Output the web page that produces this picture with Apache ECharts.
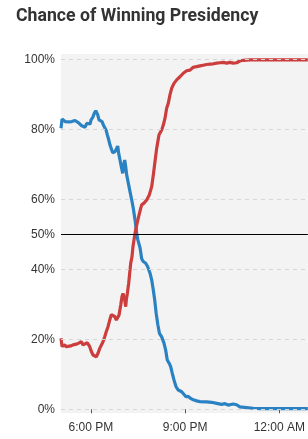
<!DOCTYPE html>
<html>
<head>
<meta charset="utf-8">
<script src="https://cdn.jsdelivr.net/npm/echarts@6/dist/echarts.min.js"></script>
<style>
html,body{margin:0;padding:0;background:#fff;}
#c{width:308px;height:439px;}
</style>
</head>
<body>
<div id="c"></div>
<script>
// minutes relative to 6:00 PM
const blueTimes = [-57,-55,-52.5,-49.2,-46,-42.9,-39.7,-36.5,-33.4,-30.2,-26.9,-23.9,-20.6,-17.4,-14.3,-11.1,-7.8,-4.8,-1.5,0.4,3.6,6.7,9.4,11.3,13.2,15.6,18.9,21.4,23.9,27.1,29,31.5,34.2,36.6,39.9,41.8,44.3,46.2,49.4,51.3,53.2,55.7,58.2,60.9,63.4,64.7,66.6,68.5,71.6,74.8,78.1,81.1,84.4,87.6,89.8,93.9,97.1,100.2,104.8,108.6,113,116.2,119.3,122,124.8,127.9,131,135.3,139.7,142.9,146,149.8,152.5,155.5,158.8,162.6,167,173.5,176.5,181.7,186,190.6,195.6,202.1,208.4,221.2,230.7,240.3,249.8,256.1,262.4,272,278.4,284.7,297.5,310.1,323,348.3,414.5];
const blueValues = [80.3,82.9,82.7,82.2,82.4,82.1,82.6,82.2,82.3,82.5,82.2,81.9,81.7,81.0,80.7,80.6,81.7,82.2,81.5,82.7,83.4,84.6,85.3,85.5,84.1,82.7,82.5,82.2,81.2,80.7,79.8,78.4,77.0,75.5,74.1,73.3,72.9,73.6,74.6,75.2,73.1,71.2,69.3,67.4,70.3,71.2,69.3,66.9,64.6,62.2,59.8,57.4,54.1,50.3,48.4,46.2,43.0,42.2,41.7,40.7,38.9,37.0,34.1,31.2,27.4,24.2,21.7,20.7,18.9,16.9,14.1,13.1,12.2,10.3,8.4,6.5,5.5,5.0,4.6,3.6,3.7,3.1,2.7,2.4,2.2,2.1,2.0,1.7,1.4,1.6,1.2,1.5,1.3,0.7,0.5,0.3,0.2,0.2,0.2];

const redTimes = [-57,-55,-51.1,-46.8,-43.5,-38.4,-34,-27.7,-23.1,-18.1,-14.9,-11.6,-6.7,-2.1,1,4.2,7.4,10.5,13.7,17,20,23.3,26.5,29.6,32.8,36.1,39.1,42.4,45.6,48.7,51.9,53.8,57.1,59.5,61.5,64.7,66.6,67.7,69.7,72.3,74.2,76.1,78.6,80.5,84.4,87.6,90.6,95.2,97.1,101.5,106.7,111.6,116.2,119.3,122.5,125.8,130.2,135.3,138.4,141.6,144.8,147.9,151.1,154.4,158.8,163.9,167,170.2,173.5,176.5,179.8,183,186.1,189.3,192.6,195.6,202.1,208.4,214.7,221.2,227.5,230.7,233.8,240.3,246.6,252.9,259.4,265.6,272,278.4,284.7,291,303.8,335.7,414.5];
const redValues = [20.3,17.9,18.4,17.9,18.4,18.1,18.4,18.6,18.9,19.3,18.4,18.9,19.0,17.9,16.5,15.5,15.8,15.0,16.0,17.4,17.9,19.3,20.7,22.2,23.6,25.5,27.0,27.4,26.5,25.5,25.0,26.9,29.8,32.2,33.1,31.2,29.3,31.2,33.1,36.0,38.9,41.7,43.6,46.5,50.3,52.7,54.6,57.4,58.4,58.9,59.8,61.2,63.6,66.9,70.7,74.6,78.4,79.8,81.2,83.1,86.0,87.4,89.8,91.7,93.1,94.1,94.6,95.0,95.5,96.0,96.5,96.7,96.3,96.9,97.4,97.7,97.9,98.1,98.3,98.5,98.6,98.4,98.7,98.9,99.0,99.1,98.9,99.1,98.9,99.0,99.5,99.7,99.8,99.8,99.8];

const yTicks = [0, 20, 40, 50, 60, 80, 100];
const yGrid = [0, 20, 40, 60, 80, 100];
const xTickValues = [0, 180, 360];
const xTickLabels = ['6:00 PM', '9:00 PM', '12:00 AM'];

const pair = (t, v) => t.map((x, i) => [x, v[i]]);
const FONT = 'Liberation Sans';

const chart = echarts.init(document.getElementById('c'), null, {renderer: 'canvas'});
chart.setOption({
  animation: false,
  backgroundColor: '#fff',
  title: {
    text: 'Chance of Winning Presidency',
    left: 11, top: 3,
    textStyle: {fontFamily: 'Roboto', fontWeight: 'bold', fontSize: 17.7, color: '#333'}
  },
  grid: {
    left: 61, right: 0, top: 54, bottom: 26,
    show: true, backgroundColor: '#f3f3f3', borderWidth: 0
  },
  xAxis: {
    type: 'value', min: -57, max: 414.5,
    axisLine: {show: false},
    splitLine: {show: false},
    axisTick: {show: true, customValues: xTickValues, length: 4, lineStyle: {color: '#555', width: 1}},
    axisLabel: {
      customValues: xTickValues, margin: 9,
      fontFamily: FONT, fontSize: 12, color: '#333',
      formatter: v => xTickLabels[xTickValues.indexOf(v)]
    }
  },
  yAxis: {
    type: 'value', min: -1.06, max: 101.5,
    axisLine: {show: false},
    axisTick: {show: false},
    splitLine: {show: false},
    axisLabel: {
      customValues: yTicks, margin: 6,
      fontFamily: FONT, fontSize: 12, color: '#333',
      formatter: v => v + '%'
    }
  },
  series: [
    {
      type: 'line', data: [], silent: true,
      markLine: {
        silent: true, symbol: 'none', label: {show: false},
        lineStyle: {type: [4, 4], color: '#d6d6d6', width: 1},
        data: yGrid.map(v => ({yAxis: v})).concat([{yAxis: 50, lineStyle: {type: 'solid', color: '#000', width: 1}}])
      }
    },
    {
      name: 'Blue', type: 'line', data: pair(blueTimes, blueValues),
      showSymbol: false, lineStyle: {color: '#2a82c3', width: 3.2}, itemStyle: {color: '#2a82c3'}
    },
    {
      name: 'Red', type: 'line', data: pair(redTimes, redValues),
      showSymbol: false, lineStyle: {color: '#cc3d3d', width: 3.2}, itemStyle: {color: '#cc3d3d'}
    }
  ]
});
</script>
</body>
</html>
